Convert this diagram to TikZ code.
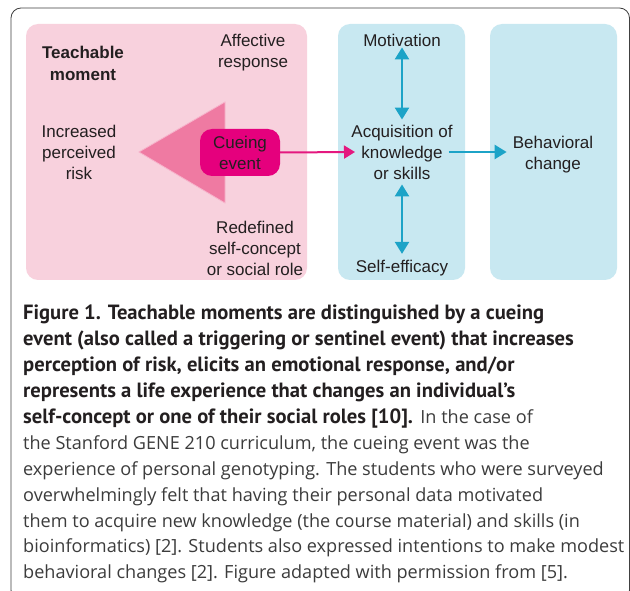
\documentclass[tikz,border=0pt]{standalone}
\usepackage{fontspec}
\setmainfont{Liberation Sans}
\newfontfamily\capbold{PT Sans}
\newfontfamily\capreg{Open Sans}
\usetikzlibrary{arrows.meta}
\definecolor{pinkbg}{HTML}{F8D1DD}
\definecolor{bluebg}{HTML}{C8E8F1}
\definecolor{tripink}{HTML}{EF7AA2}
\definecolor{triedge}{HTML}{F7B3CB}
\definecolor{cuefill}{HTML}{E5007D}
\definecolor{cueline}{HTML}{E4187F}
\definecolor{arrowblue}{HTML}{1CA3C7}
\definecolor{txt}{HTML}{231F20}
\definecolor{captxt}{HTML}{3C3C3C}
\newcommand{\bpart}{\capbold\fontsize{20.6}{25.9}\selectfont\bfseries\color{txt}}
\newcommand{\rpart}{\capreg\fontsize{18.1}{25.9}\selectfont\mdseries\color{captxt}}
\tikzset{
  lbl/.style={align=center,inner sep=0pt,text=txt,font=\fontsize{17}{21}\selectfont},
  panel/.style={rounded corners=12pt},
  bluearrow/.style={draw=arrowblue,line width=2.4pt,-{Triangle[length=12pt,width=14pt]}},
  twoway/.style={draw=arrowblue,line width=2.4pt,{Triangle[length=12pt,width=14pt]}-{Triangle[length=12pt,width=14pt]}},
  pinkarrow/.style={draw=cueline,line width=2pt,-{Triangle[length=11pt,width=13pt]}}
}
\begin{document}
\begin{tikzpicture}[x=1pt,y=-1pt]
  \clip (0,0) rectangle (630,591);
  \fill[white] (0,0) rectangle (630,591);
  % frame
  \draw[black!75,line width=0.8pt,rounded corners=10pt] (11,8) rectangle (629.5,600);
  % panels
  \fill[pinkbg,panel] (26,24) rectangle (307,280);
  \fill[bluebg,panel] (338,24) rectangle (465,280);
  \fill[bluebg,panel] (490,24) rectangle (617,280);
  % wedge
  \filldraw[fill=tripink,draw=triedge,line width=0.8pt] (139,152) -- (225,102) -- (225,203) -- cycle;
  \node[lbl,fill=cuefill,rounded corners=12pt,minimum width=80pt,minimum height=47pt] (cue) at (240,152.5) {Cueing\\event};
  % labels
  \node[lbl,font=\fontsize{17}{22}\selectfont\bfseries] (teach) at (83,63) {Teachable\\moment};
  \node[lbl] (affect) at (253,53) {Affective\\response};
  \node[lbl] (risk) at (79,152) {Increased\\perceived\\risk};
  \node[lbl] (redef) at (255,248) {Redefined\\self-concept\\or social role};
  \node[lbl] (motiv) at (402,40) {Motivation};
  \node[lbl] (acq) at (402,152) {Acquisition of\\knowledge\\or skills};
  \node[lbl] (selfeff) at (402,268) {Self-efficacy};
  \node[lbl] (behav) at (553,154.5) {Behavioral\\change};
  \coordinate (acqin) at (355,152);
  % connectors
  \draw[pinkarrow] (cue.east) -- (acqin);
  \draw[bluearrow,shorten >=6pt] ([xshift=-4pt]acq.east) -- (acq.east -| behav.west);
  \draw[twoway,shorten <=1pt,shorten >=5pt] (motiv.south) -- (acq.north);
  \draw[twoway,shorten <=5pt,shorten >=6pt] (acq.south) -- (selfeff.north);
  % caption
  \node[anchor=north west,inner sep=0pt,align=left,font=\fontsize{20}{25.9}\selectfont] (caption) at (23,305)
    {\bpart Figure 1. Teachable moments are distinguished by a cueing\\
     \bpart event (also called a triggering or sentinel event) that increases\\
     \bpart perception of risk, elicits an emotional response, and/or\\
     \bpart represents a life experience that changes an individual’s\\
     {\bpart self-concept or one of their social roles [10].} \rpart In the case of\\
     \rpart the Stanford GENE 210 curriculum, the cueing event was the\\
     \rpart experience of personal genotyping. The students who were surveyed\\
     \rpart overwhelmingly felt that having their personal data motivated\\
     \rpart them to acquire new knowledge (the course material) and skills (in\\
     \rpart bioinformatics) [2]. Students also expressed intentions to make modest\\
     \rpart behavioral changes [2]. Figure adapted with permission from [5].};
\end{tikzpicture}
\end{document}
